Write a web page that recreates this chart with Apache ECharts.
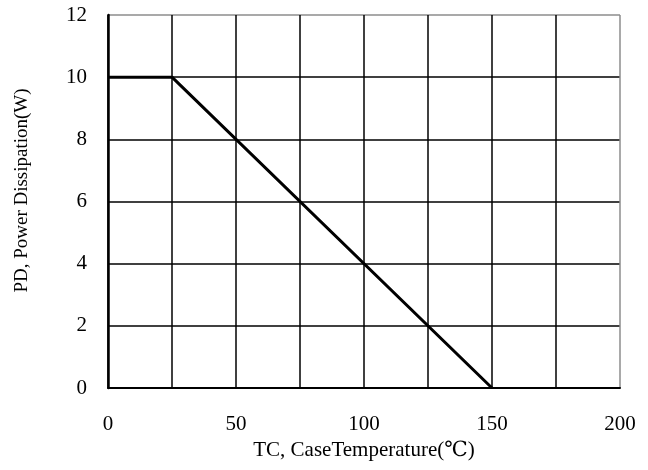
<!DOCTYPE html>
<html>
<head>
<meta charset="utf-8">
<script src="https://cdn.jsdelivr.net/npm/echarts@6/dist/echarts.min.js"></script>
<style>
  html, body { margin: 0; padding: 0; background: #fff; }
  #chart { width: 648px; height: 470px; }
</style>
</head>
<body>
<div id="chart"></div>
<script>
// derating curve: temperature (°C) vs power (W)
const caseTemp = [0, 25, 150];
const powerDiss = [10, 10, 0];
const xTicks = [0, 50, 100, 150, 200];
const yTicks = [0, 2, 4, 6, 8, 10, 12];

const font = '"Liberation Serif", "DejaVu Serif", serif';

// last grid line (top / right border) is grey in the original
const ySplitColors = yTicks.map((v, i) => (i === yTicks.length - 1 ? '#8c8c8c' : '#000'));
const xSplitColors = [];
for (let v = 0; v <= 200; v += 25) xSplitColors.push(v === 200 ? '#8c8c8c' : '#000');

const chart = echarts.init(document.getElementById('chart'));
chart.setOption({
  animation: false,
  backgroundColor: '#fff',
  grid: { left: 108, right: 28, top: 15, bottom: 82 },
  xAxis: {
    type: 'value',
    min: 0,
    max: 200,
    interval: 25,
    name: 'TC, CaseTemperature(℃)',
    nameLocation: 'middle',
    nameGap: 52,
    nameTextStyle: { fontFamily: font, fontSize: 21, color: '#000' },
    axisLine: { show: true, lineStyle: { color: '#000', width: 2 } },
    axisTick: { show: false },
    axisLabel: {
      margin: 26,
      fontFamily: font,
      fontSize: 21,
      color: '#000',
      formatter: v => (xTicks.includes(v) ? String(v) : '')
    },
    splitLine: { show: true, lineStyle: { color: xSplitColors, width: 1.5 } }
  },
  yAxis: {
    type: 'value',
    min: 0,
    max: 12,
    interval: 2,
    name: 'PD, Power Dissipation(W)',
    nameLocation: 'middle',
    nameGap: 76,
    nameTextStyle: { fontFamily: font, fontSize: 19, color: '#000', padding: [0, 0, 0, 22] },
    axisLine: { show: true, lineStyle: { color: '#000', width: 2.5 } },
    axisTick: { show: false },
    axisLabel: {
      margin: 21,
      fontFamily: font,
      fontSize: 21,
      color: '#000'
    },
    splitLine: { show: true, lineStyle: { color: ySplitColors, width: 1.5 } }
  },
  series: [{
    type: 'line',
    data: caseTemp.map((t, i) => [t, powerDiss[i]]),
    symbol: 'none',
    lineStyle: { color: '#000', width: 3 }
  }]
});
</script>
</body>
</html>
